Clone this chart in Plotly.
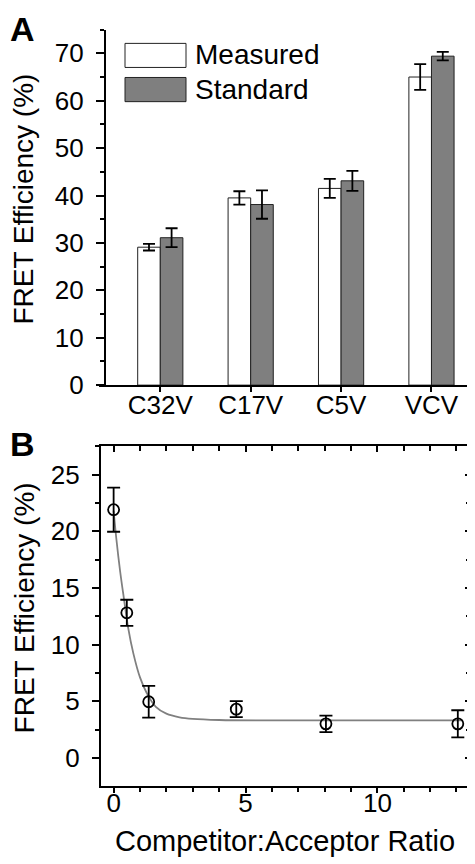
import plotly.graph_objects as go

# ---------------- Data ----------------
# Panel A
categories = ["C32V", "C17V", "C5V", "VCV"]
measured = [29.1, 39.5, 41.5, 65.0]
measured_err = [0.7, 1.4, 2.0, 2.7]
standard = [31.1, 38.1, 43.1, 69.4]
standard_err = [2.0, 3.0, 2.1, 0.9]

# Panel B
ratio = [0, 0.5, 1.33, 4.65, 8.05, 13.05]
fret_b = [21.9, 12.8, 4.95, 4.3, 3.0, 3.0]
fret_b_err = [1.95, 1.15, 1.4, 0.7, 0.72, 1.2]

# fitted curve
fit_x = [0, 0.1, 0.25, 0.4, 0.55, 0.75, 1.0, 1.25, 1.6, 2.0, 2.5, 3.0, 4.0, 6.0, 9.0, 13.2]
fit_y = [21.8, 19.4, 16.4, 13.9, 11.5, 9.2, 7.1, 5.75, 4.5, 3.9, 3.58, 3.44, 3.34, 3.3, 3.3, 3.3]

W, H = 475, 864
FONT = "Liberation Sans, Arial, sans-serif"


def px(x):
    return x / W


def py(y):
    return 1 - y / H


fig = go.Figure()

# ---------- Panel A bars ----------
fig.add_trace(go.Bar(
    x=categories, y=measured, name="Measured",
    marker=dict(color="white", line=dict(color="#222222", width=1)),
    error_y=dict(type="data", array=measured_err, color="black", thickness=1.8, width=6),
    xaxis="x", yaxis="y", showlegend=False,
))
fig.add_trace(go.Bar(
    x=categories, y=standard, name="Standard",
    marker=dict(color="#7f7f7f", line=dict(color="#222222", width=1)),
    error_y=dict(type="data", array=standard_err, color="black", thickness=1.8, width=6),
    xaxis="x", yaxis="y", showlegend=False,
))

# ---------- Panel B ----------
fig.add_trace(go.Scatter(
    x=fit_x, y=fit_y, mode="lines", line=dict(color="#808080", width=1.8, shape="spline"),
    xaxis="x2", yaxis="y2", showlegend=False, hoverinfo="skip",
))
fig.add_trace(go.Scatter(
    x=ratio, y=fret_b, mode="markers",
    marker=dict(symbol="circle-open", size=11, color="black", line=dict(width=1.8, color="black")),
    error_y=dict(type="data", array=fret_b_err, color="black", thickness=1.8, width=6.5),
    xaxis="x2", yaxis="y2", showlegend=False,
))
# empty trace to register mirrored (inside-tick) axes of panel B
fig.add_trace(go.Scatter(x=[], y=[], xaxis="x3", yaxis="y3", showlegend=False))

tickfont = dict(family=FONT, size=26, color="black")
axis_common = dict(showgrid=False, zeroline=False, showline=True, linecolor="black",
                   linewidth=1.5, tickcolor="black", tickwidth=1.5, tickfont=tickfont)

bx0, bx1 = px(92.7), px(463)
by0, by1 = py(791.5), py(445.7)
xb_range = [-0.49, 13.55]
yb_range = [-2.46, 27.52]

fig.update_layout(
    width=W, height=H,
    margin=dict(l=0, r=0, t=0, b=0),
    paper_bgcolor="white", plot_bgcolor="white",
    barmode="group", bargap=0.5, bargroupgap=0,
    font=dict(family=FONT, color="black"),
    xaxis=dict(axis_common, domain=[px(91), 1.0], anchor="y", range=[-0.678, 3.57],
               ticks="outside", ticklen=5, tickvals=categories, ticklabelstandoff=-9),
    yaxis=dict(axis_common, domain=[py(383.8), py(22)], anchor="free", position=px(96.7),
               range=[0, 75], ticks="outside", ticklen=8, dtick=10, tick0=0,
               ticklabelstandoff=7,
               minor=dict(ticks="outside", ticklen=4, dtick=5, tick0=0,
                          tickcolor="black", tickwidth=1.5)),
    xaxis2=dict(axis_common, domain=[bx0, bx1], anchor="y2", range=xb_range,
                ticks="outside", ticklen=5, dtick=5, tick0=0, ticklabelstandoff=-12,
                minor=dict(ticks="outside", ticklen=4, dtick=1, tick0=0,
                           tickcolor="black", tickwidth=1.5)),
    yaxis2=dict(axis_common, domain=[by0, by1], anchor="x2", range=yb_range,
                ticks="outside", ticklen=7, dtick=5, tick0=0, ticklabelstandoff=7,
                minor=dict(ticks="outside", ticklen=4, dtick=2.5, tick0=0,
                           tickcolor="black", tickwidth=1.5)),
    xaxis3=dict(axis_common, overlaying="x2", anchor="y2", side="top", range=xb_range,
                ticks="inside", ticklen=6, dtick=5, tick0=0, showticklabels=False,
                minor=dict(ticks="inside", ticklen=5, dtick=1, tick0=0,
                           tickcolor="black", tickwidth=1.5)),
    yaxis3=dict(axis_common, overlaying="y2", anchor="x2", side="right", range=yb_range,
                ticks="inside", ticklen=6, dtick=5, tick0=0, showticklabels=False,
                minor=dict(ticks="inside", ticklen=5, dtick=2.5, tick0=0,
                           tickcolor="black", tickwidth=1.5)),
)

# ---------- Legend for panel A (drawn boxes) ----------
shapes = [
    dict(type="rect", xref="paper", yref="paper", x0=px(117), x1=px(178), y0=py(60.5), y1=py(36),
         fillcolor="white", line=dict(color="#222222", width=1)),
    dict(type="rect", xref="paper", yref="paper", x0=px(117), x1=px(178), y0=py(95.3), y1=py(70.7),
         fillcolor="#7f7f7f", line=dict(color="#222222", width=1)),
]
fig.update_layout(shapes=shapes)

ann_font = dict(family=FONT, size=28, color="black")
annotations = [
    dict(text="Measured", x=px(185), y=py(47.5), xref="paper", yref="paper",
         xanchor="left", yanchor="middle", showarrow=False, font=ann_font),
    dict(text="Standard", x=px(185), y=py(83), xref="paper", yref="paper",
         xanchor="left", yanchor="middle", showarrow=False, font=ann_font),
    # panel labels
    dict(text="<b>A</b>", x=0, y=1, xref="paper", yref="paper", xanchor="left",
         yanchor="top", showarrow=False,
         font=dict(family=FONT, size=34, color="black")),
    dict(text="<b>B</b>", x=0, y=py(443.5), xref="paper", yref="paper", xanchor="left",
         yanchor="middle", showarrow=False,
         font=dict(family=FONT, size=34, color="black")),
    # axis titles
    dict(text="FRET Efficiency (%)", x=px(16), y=py(195), xref="paper", yref="paper",
         xanchor="center", yanchor="middle", textangle=-90, showarrow=False, font=ann_font),
    dict(text="FRET Efficiency (%)", x=px(16), y=py(611), xref="paper", yref="paper",
         xanchor="center", yanchor="middle", textangle=-90, showarrow=False, font=ann_font),
    dict(text="Competitor:Acceptor Ratio", x=px(277), y=py(848), xref="paper", yref="paper",
         xanchor="center", yanchor="middle", showarrow=False,
         font=dict(family=FONT, size=29, color="black")),
]
fig.update_layout(annotations=annotations)

fig.write_html("out.html")
